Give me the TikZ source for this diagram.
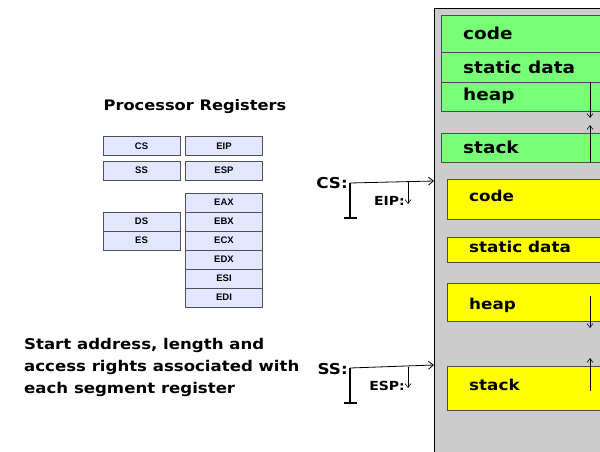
\documentclass[tikz,border=0pt]{standalone}
\usepackage{fontspec}
\newfontfamily\comic[FakeStretch=1.12]{DejaVu Sans}
\newfontfamily\arialb{Liberation Sans}
\usetikzlibrary{arrows.meta}
\definecolor{memgray}{HTML}{CCCCCC}
\definecolor{seggreen}{HTML}{77FF77}
\definecolor{segyellow}{HTML}{FFFF00}
\definecolor{regfill}{HTML}{E2E6FF}
\definecolor{regline}{HTML}{505050}
\tikzset{
  reg/.style={draw=regline, fill=regfill, line width=0.8pt, minimum width=77pt, minimum height=19pt, inner sep=0pt, font=\arialb\bfseries\fontsize{9.5}{10}\selectfont},
  gseg/.style={draw=black!70, fill=seggreen, line width=0.8pt},
  yseg/.style={draw=black!70, fill=segyellow, line width=0.8pt},
  gtxt/.style={anchor=west, inner sep=0pt, font=\comic\bfseries\fontsize{16.5}{18}\selectfont},
  ytxt/.style={anchor=west, inner sep=0pt, font=\comic\bfseries\fontsize{15}{16}\selectfont},
  lbl/.style={inner sep=0pt, font=\comic\bfseries\fontsize{15}{17}\selectfont},
  slbl/.style={inner sep=0pt, font=\comic\bfseries\fontsize{12.5}{14}\selectfont},
  thinarr/.style={line width=0.6pt, -{Straight Barb[length=4pt,width=6pt]}},
  ptr/.style={line width=0.8pt, -{Straight Barb[length=5pt,width=8pt]}},
}
\begin{document}
\begin{tikzpicture}[x=1pt,y=-1pt]
\useasboundingbox (0,0) rectangle (600,452);
% memory column
\draw[fill=memgray, line width=0.8pt] (434,460) -- (434,8) -- (610,8) -- (610,460);
% green segments
\draw[gseg] (441,15) rectangle (610,52);
\draw[gseg] (441,52) rectangle (610,82);
\draw[gseg] (441,82) rectangle (610,111);
\draw[gseg] (441,133) rectangle (610,162);
\node[gtxt] (gcode) at (463,33) {code};
\node[gtxt] (gstat) at (463,67) {static data};
\node[gtxt] (gheap) at (463,96) {heap};
\node[gtxt] (gstack) at (463,147) {stack};
\coordinate (gh1) at (590,82); \coordinate (gh2) at (590,118);
\coordinate (gs1) at (590,162); \coordinate (gs2) at (590,125);
\draw[thinarr] (gh1) -- (gh2);
\draw[thinarr] (gs1) -- (gs2);
% yellow segments
\draw[yseg] (447,179) rectangle (610,219);
\draw[yseg] (447,237) rectangle (610,262);
\draw[yseg] (447,283) rectangle (610,321);
\draw[yseg] (447,366) rectangle (610,410);
\node[ytxt] (ycode) at (469,196) {code};
\node[ytxt] (ystat) at (469,247) {static data};
\node[ytxt] (yheap) at (469,305) {heap};
\node[ytxt] (ystack) at (469,385) {stack};
\coordinate (yh1) at (590,296); \coordinate (yh2) at (590,328);
\coordinate (ys1) at (590,391); \coordinate (ys2) at (590,358);
\draw[thinarr] (yh1) -- (yh2);
\draw[thinarr] (ys1) -- (ys2);
% registers
\node[font=\comic\bfseries\fontsize{14.5}{16}\selectfont] (title) at (195,107) {Processor Registers};
\node[reg] (cs) at (141.5,146) {CS};
\node[reg] (eip) at (224,146) {EIP};
\node[reg] (ss) at (141.5,170.5) {SS};
\node[reg] (esp) at (224,170.5) {ESP};
\node[reg] (eax) at (224,202.5) {EAX};
\node[reg] (ebx) at (224,221.5) {EBX};
\node[reg] (ecx) at (224,240.5) {ECX};
\node[reg] (edx) at (224,259.5) {EDX};
\node[reg] (esi) at (224,278.5) {ESI};
\node[reg] (edi) at (224,297.5) {EDI};
\node[reg] (ds) at (141.5,221.5) {DS};
\node[reg] (es) at (141.5,240.5) {ES};
% description
\node[anchor=north west, inner sep=0pt, align=left, font=\comic\bfseries\fontsize{14.8}{22}\selectfont] (desc) at (24,338) {Start address, length and\\access rights associated with\\each segment register};
% CS pointer
\node[lbl, anchor=east] (cslbl) at (348,183) {CS:};
\coordinate (csb) at (350,183);
\coordinate (cse) at (434,181);
\coordinate (csbot) at (350,218);
\draw[ptr] (csb) -- (cse);
\draw[line width=1.5pt] (csb) -- (csbot);
\draw[line width=1.5pt] (344,218) -- (357,218);
\node[slbl, anchor=east] (eiplbl) at (405,201) {EIP:};
\coordinate (eip1) at (408,182); \coordinate (eip2) at (408,204);
\draw[thinarr] (eip1) -- (eip2);
% SS pointer
\node[lbl, anchor=east] (sslbl) at (348,369) {SS:};
\coordinate (ssb) at (350,368);
\coordinate (sse) at (434,365);
\coordinate (ssbot) at (350,403);
\draw[ptr] (ssb) -- (sse);
\draw[line width=1.5pt] (ssb) -- (ssbot);
\draw[line width=1.5pt] (344,403) -- (357,403);
\node[slbl, anchor=east] (esplbl) at (405,386) {ESP:};
\coordinate (esp1) at (408,367); \coordinate (esp2) at (408,388);
\draw[thinarr] (esp1) -- (esp2);
\end{tikzpicture}
\end{document}
